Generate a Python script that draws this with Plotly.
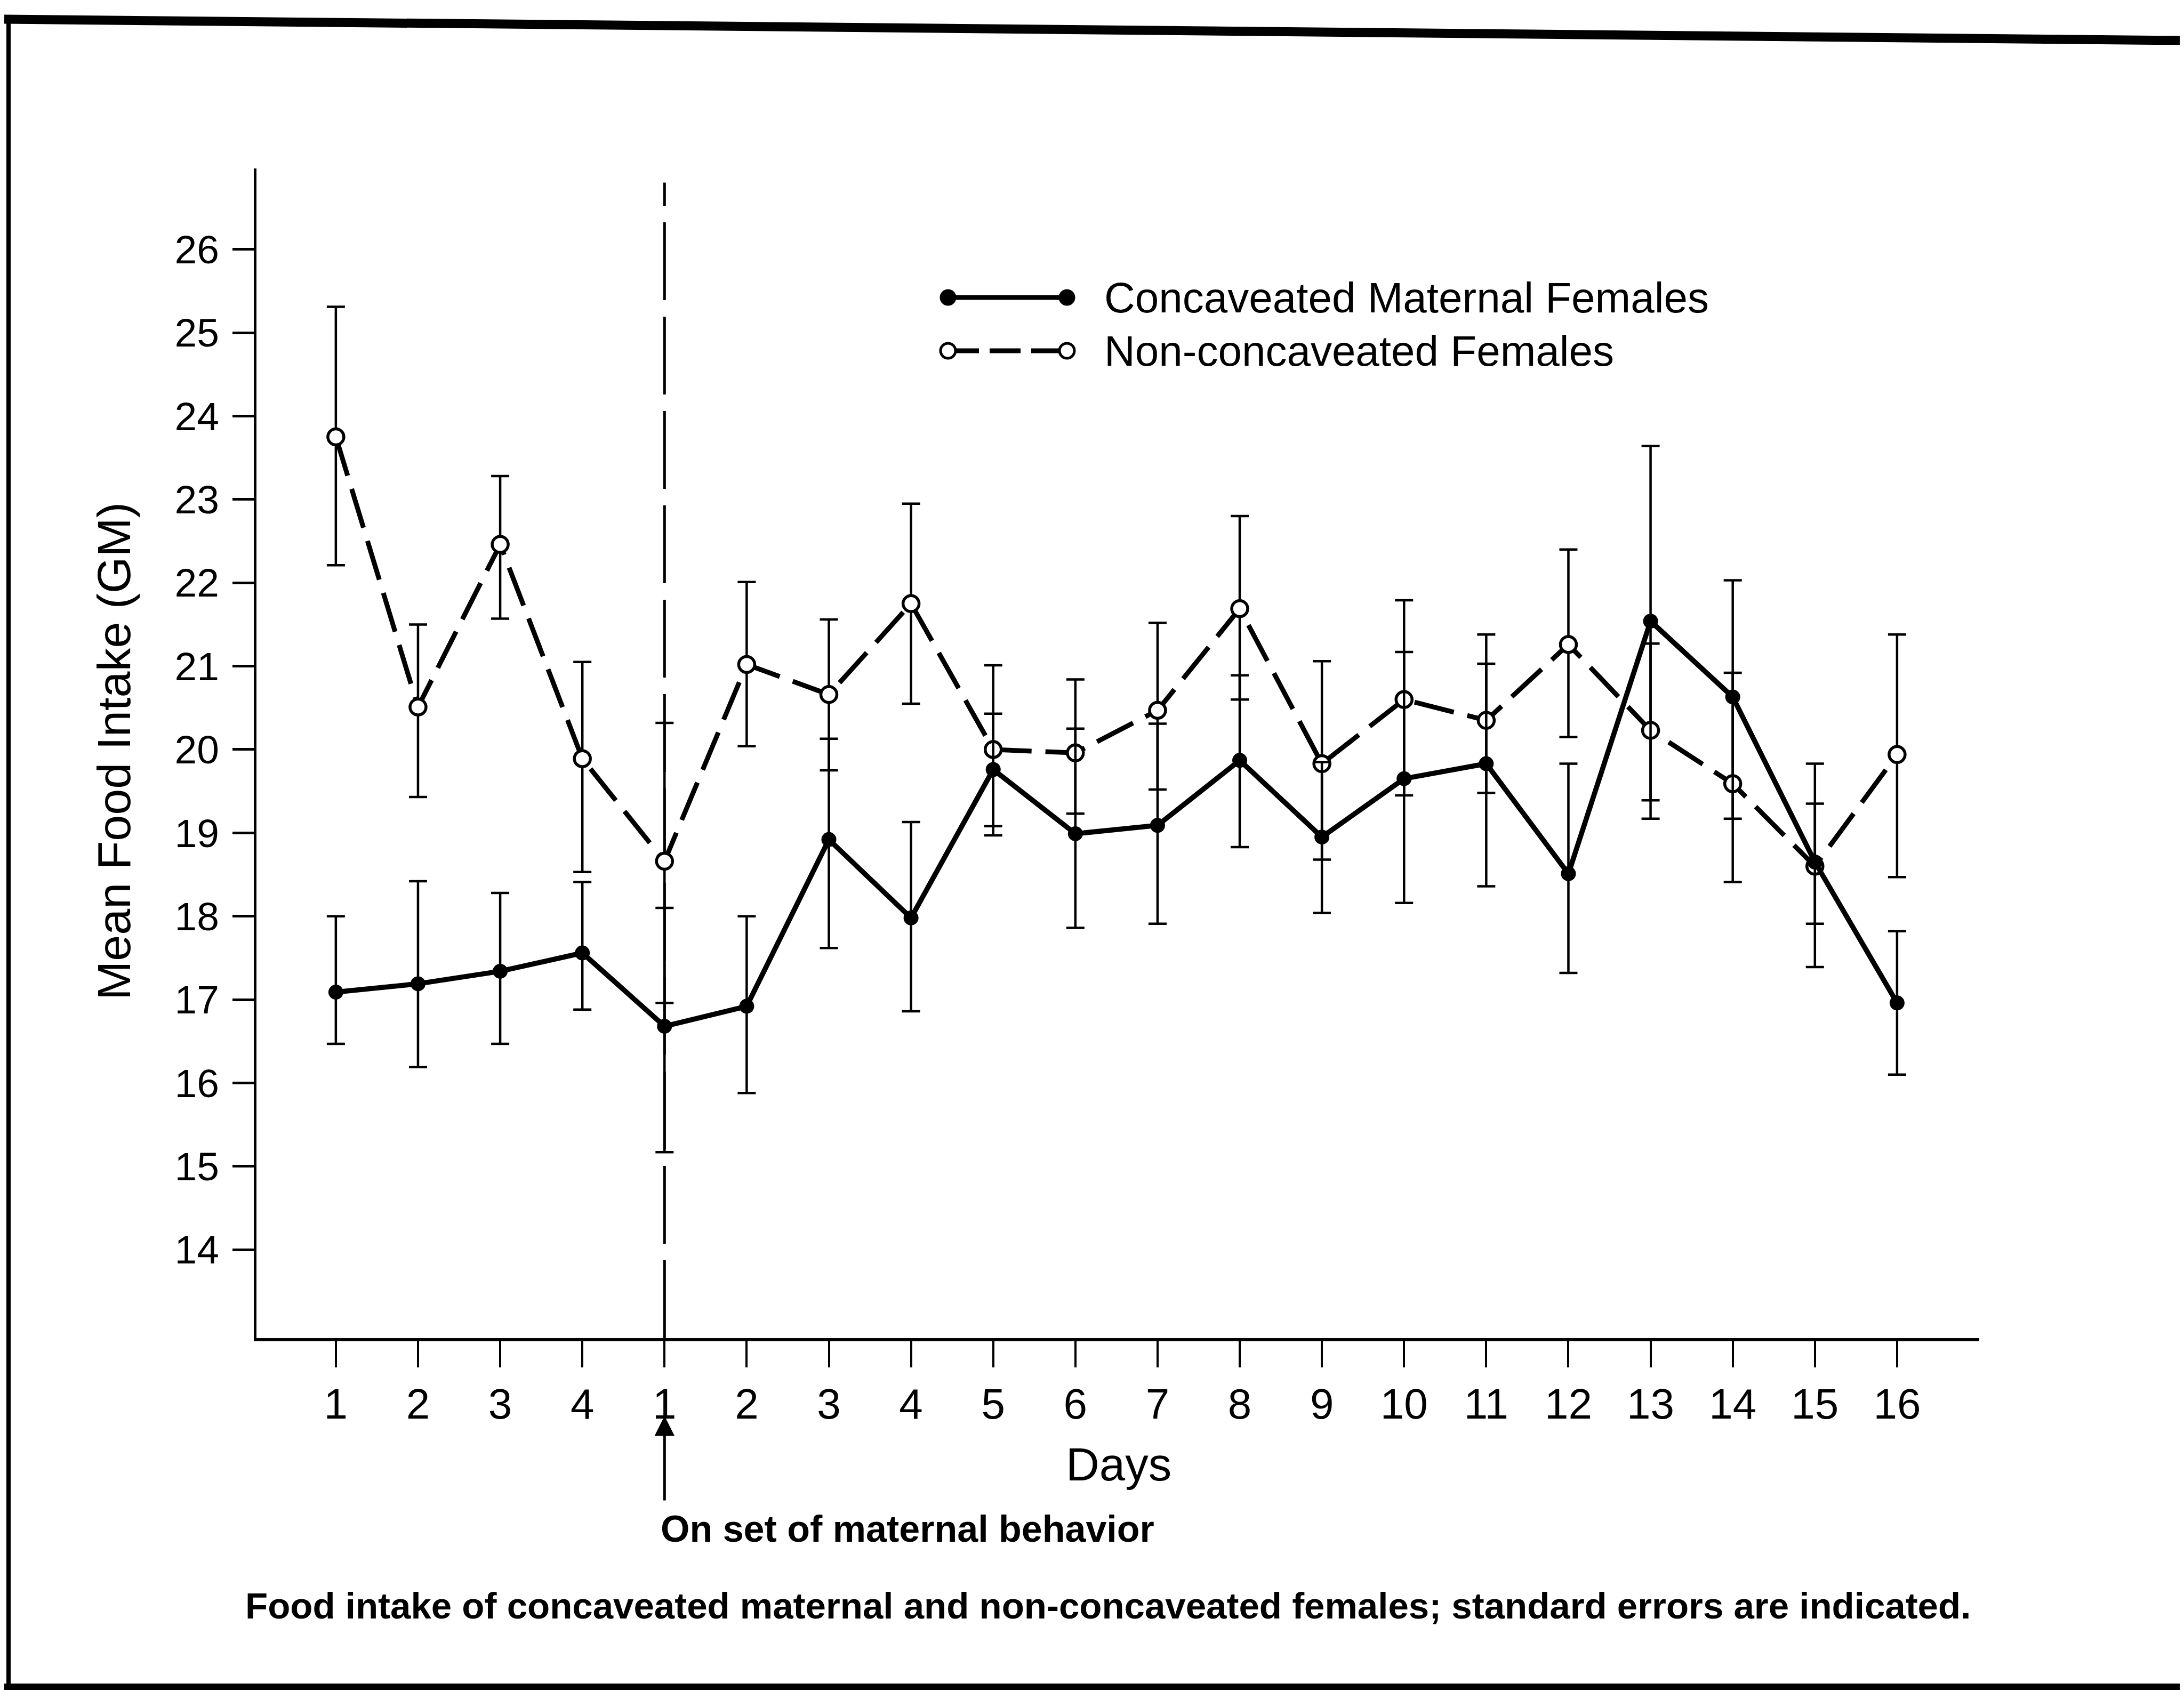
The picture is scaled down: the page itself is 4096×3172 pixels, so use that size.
import plotly.graph_objects as go

# ---------------- data ----------------
tick_labels = ["1", "2", "3", "4", "1", "2", "3", "4", "5", "6", "7", "8",
               "9", "10", "11", "12", "13", "14", "15", "16"]
positions = list(range(len(tick_labels)))

conc_mean = [17.09, 17.19, 17.34, 17.56, 16.68, 16.92, 18.92, 17.98, 19.76, 18.99,
             19.09, 19.87, 18.95, 19.65, 19.83, 18.51, 21.54, 20.63, 18.65, 16.96]
conc_upper = [18.00, 18.42, 18.28, 18.41, 18.10, 18.00, 20.13, 19.13, 20.43, 20.25,
              20.31, 20.89, 19.85, 21.17, 21.03, 19.83, 23.64, 22.03, 19.35, 17.82]
conc_lower = [16.47, 16.19, 16.47, 16.88, 15.17, 15.88, 17.62, 16.86, 19.08, 17.86,
              17.91, 18.83, 18.04, 18.16, 18.36, 17.32, 19.17, 19.17, 17.91, 16.10]

non_mean = [23.75, 20.51, 22.46, 19.89, 18.66, 21.02, 20.66, 21.75, 20.00, 19.96,
            20.47, 21.69, 19.83, 20.60, 20.35, 21.26, 20.23, 19.59, 18.60, 19.94]
non_upper = [25.31, 21.50, 23.28, 21.05, 20.32, 22.01, 21.56, 22.95, 21.01, 20.84,
             21.52, 22.80, 21.06, 21.79, 21.38, 22.40, 21.27, 20.92, 19.83, 21.38]
non_lower = [22.21, 19.43, 21.57, 18.53, 16.96, 20.04, 19.75, 20.55, 18.97, 19.23,
             19.52, 20.60, 18.68, 19.45, 19.48, 20.15, 19.39, 18.41, 17.39, 18.47]

y_ticks = list(range(14, 27))
onset_index = 4
onset_line_top = 26.8

series_names = ["Concaveated Maternal Females", "Non-concaveated Females"]

# ---------------- geometry ----------------
W, H = 4096, 3172
L, R, T, B = 473, 3704, 308, 2502
FONT = "Liberation Sans, Arial, sans-serif"


def px(xp):
    return (xp - L) / (R - L)


def py(yp):
    return (B - yp) / (B - T)


def err(mean, upper, lower):
    plus = [u - m for u, m in zip(upper, mean)]
    minus = [m - lo for m, lo in zip(mean, lower)]
    return dict(type="data", symmetric=False, array=plus, arrayminus=minus,
                color="black", thickness=4.5, width=17)


fig = go.Figure()

fig.add_trace(go.Scatter(
    x=positions, y=non_mean, mode="lines+markers", name=series_names[1],
    line=dict(color="black", width=9, dash="76px,26px"),
    marker=dict(symbol="circle", size=30, color="white",
                line=dict(color="black", width=5.5)),
    error_y=err(non_mean, non_upper, non_lower),
    showlegend=False,
))

fig.add_trace(go.Scatter(
    x=positions, y=conc_mean, mode="lines+markers", name=series_names[0],
    line=dict(color="black", width=9.5),
    marker=dict(symbol="circle", size=28, color="black"),
    error_y=err(conc_mean, conc_upper, conc_lower),
    showlegend=False,
))

shapes = []
# onset vertical dashed line
shapes.append(dict(type="line", xref="x", yref="y", x0=onset_index, x1=onset_index,
                   y0=12.94, y1=onset_line_top,
                   line=dict(color="black", width=5, dash="146px,31px"), layer="below"))

# legend samples
leg_x0, leg_x1 = 1770, 1993
leg_y = [550, 650]
shapes.append(dict(type="line", xref="paper", yref="paper",
                   x0=px(leg_x0), x1=px(leg_x1), y0=py(leg_y[0]), y1=py(leg_y[0]),
                   line=dict(color="black", width=9)))
shapes.append(dict(type="line", xref="paper", yref="paper",
                   x0=px(leg_x0), x1=px(leg_x1), y0=py(leg_y[1]), y1=py(leg_y[1]),
                   line=dict(color="black", width=9, dash="58px,20px")))
r = 14
for cx in (leg_x0, leg_x1):
    shapes.append(dict(type="circle", xref="paper", yref="paper",
                       x0=px(cx - r), x1=px(cx + r), y0=py(leg_y[0] + r), y1=py(leg_y[0] - r),
                       fillcolor="black", line=dict(color="black", width=3)))
    shapes.append(dict(type="circle", xref="paper", yref="paper",
                       x0=px(cx - r), x1=px(cx + r), y0=py(leg_y[1] + r), y1=py(leg_y[1] - r),
                       fillcolor="white", line=dict(color="black", width=5)))

# page frame
shapes.append(dict(type="line", xref="paper", yref="paper",
                   x0=px(0), x1=px(W), y0=py(28), y1=py(68),
                   line=dict(color="black", width=17)))
shapes.append(dict(type="line", xref="paper", yref="paper",
                   x0=px(8), x1=px(8), y0=py(20), y1=py(3162),
                   line=dict(color="black", width=8)))
shapes.append(dict(type="line", xref="paper", yref="paper",
                   x0=px(0), x1=px(W), y0=py(3156), y1=py(3156),
                   line=dict(color="black", width=12)))

annotations = [
    dict(text=series_names[0], xref="paper", yref="paper", x=px(2061), y=py(leg_y[0]),
         xanchor="left", yanchor="middle", showarrow=False,
         font=dict(family=FONT, size=80, color="black")),
    dict(text="Non-concaveated Females", xref="paper", yref="paper", x=px(2061), y=py(leg_y[1]),
         xanchor="left", yanchor="middle", showarrow=False,
         font=dict(family=FONT, size=80, color="black")),
    dict(text="Mean Food Intake (GM)", xref="paper", yref="paper", x=px(205), y=py(1401),
         textangle=-90, xanchor="center", yanchor="middle", showarrow=False,
         font=dict(family=FONT, size=88, color="black")),
    dict(text="Days", xref="paper", yref="paper", x=px(2090), y=py(2738),
         xanchor="center", yanchor="middle", showarrow=False,
         font=dict(family=FONT, size=87, color="black")),
    dict(text="<b>On set of maternal behavior</b>", xref="paper", yref="paper", x=px(1694), y=py(2860),
         xanchor="center", yanchor="middle", showarrow=False,
         font=dict(family=FONT, size=70, color="black")),
    dict(text="<b>Food intake of concaveated maternal and non-concaveated females; standard errors are indicated.</b>",
         xref="paper", yref="paper", x=px(2070), y=py(3004),
         xanchor="center", yanchor="middle", showarrow=False,
         font=dict(family=FONT, size=69, color="black")),
    dict(text="", xref="x", yref="paper", x=onset_index, y=py(2648),
         ax=0, ay=160, axref="pixel", ayref="pixel", showarrow=True,
         arrowhead=2, arrowsize=1.5, arrowwidth=5, arrowcolor="black"),
]

fig.update_layout(
    width=W, height=H, autosize=False,
    margin=dict(l=L, r=W - R, t=T, b=H - B, pad=0),
    paper_bgcolor="white", plot_bgcolor="white",
    shapes=shapes, annotations=annotations,
    font=dict(family=FONT, color="black"),
    xaxis=dict(range=[-0.966, 20.0], tickmode="array", tickvals=positions,
               ticktext=tick_labels, ticks="outside", ticklen=49, tickwidth=4,
               tickcolor="black", showline=True, linewidth=6, linecolor="black",
               showgrid=False, zeroline=False, ticklabelstandoff=0,
               tickfont=dict(family=FONT, size=80, color="black")),
    yaxis=dict(range=[12.94, 26.97], tickmode="array", tickvals=y_ticks,
               ticks="outside", ticklen=40, tickwidth=5, tickcolor="black",
               showline=True, linewidth=5, linecolor="black",
               showgrid=False, zeroline=False, ticklabelstandoff=10,
               tickfont=dict(family=FONT, size=75, color="black")),
)

fig.write_html("out.html")
